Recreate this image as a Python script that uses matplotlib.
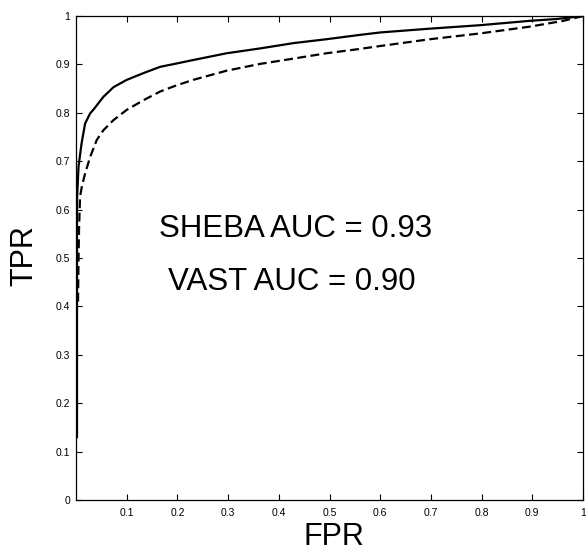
import matplotlib
matplotlib.use("Agg")
import matplotlib.pyplot as plt

plt.rcParams['font.family'] = ['Liberation Sans', 'DejaVu Sans']

# SHEBA ROC curve (solid)
sheba_fpr = [0.002, 0.002, 0.002, 0.005, 0.011, 0.018, 0.028, 0.034, 0.054, 0.074,
             0.100, 0.133, 0.166, 0.199, 0.231, 0.297, 0.363, 0.429, 0.494, 0.560,
             0.600, 0.700, 0.797, 0.895, 0.950, 1.0]
sheba_tpr = [0.13, 0.50, 0.62, 0.689, 0.737, 0.778, 0.799, 0.806, 0.833, 0.853,
             0.868, 0.882, 0.895, 0.902, 0.909, 0.923, 0.933, 0.944, 0.952, 0.961,
             0.966, 0.974, 0.981, 0.990, 0.994, 1.0]

# VAST ROC curve (dashed)
vast_fpr = [0.004, 0.005, 0.006, 0.008, 0.012, 0.018, 0.028, 0.041, 0.054, 0.074,
            0.100, 0.133, 0.166, 0.199, 0.231, 0.297, 0.363, 0.429, 0.494, 0.560,
            0.600, 0.698, 0.797, 0.895, 0.961, 1.0]
vast_tpr = [0.41, 0.50, 0.56, 0.627, 0.65, 0.675, 0.709, 0.744, 0.764, 0.785,
            0.806, 0.826, 0.844, 0.857, 0.868, 0.887, 0.901, 0.912, 0.923, 0.932,
            0.938, 0.952, 0.964, 0.978, 0.990, 1.0]

x_ticks = [0.1, 0.2, 0.3, 0.4, 0.5, 0.6, 0.7, 0.8, 0.9, 1.0]
x_tick_labels = ['0.1', '0.2', '0.3', '0.4', '0.5', '0.6', '0.7', '0.8', '0.9', '1']
y_ticks = [0, 0.1, 0.2, 0.3, 0.4, 0.5, 0.6, 0.7, 0.8, 0.9, 1.0]
y_tick_labels = ['0', '0.1', '0.2', '0.3', '0.4', '0.5', '0.6', '0.7', '0.8', '0.9', '1']

auc_texts = ['SHEBA AUC = 0.93', 'VAST AUC = 0.90']

fig = plt.figure(figsize=(5.86, 5.55), dpi=100)
ax = fig.add_axes([76 / 586, 55 / 555, 507 / 586, 484 / 555])

ax.plot(sheba_fpr, sheba_tpr, color='black', lw=1.6, linestyle='-')
ax.plot(vast_fpr, vast_tpr, color='black', lw=1.6, linestyle=(0, (4, 2)))

ax.set_xlim(0, 1)
ax.set_ylim(0, 1)
ax.set_xticks(x_ticks)
ax.set_xticklabels(x_tick_labels)
ax.set_yticks(y_ticks)
ax.set_yticklabels(y_tick_labels)
ax.tick_params(direction='in', length=4, width=0.8, labelsize=7.5,
               top=True, right=True, colors='black')
ax.tick_params(axis='x', pad=6)
ax.tick_params(axis='y', pad=4)
for s in ax.spines.values():
    s.set_linewidth(0.9)

ax.text(0.164, 0.543, auc_texts[0], fontsize=22.5, ha='left', va='baseline')
ax.text(0.181, 0.434, auc_texts[1], fontsize=22.5, ha='left', va='baseline')

fig.text(0.570, 0.033, 'FPR', fontsize=22, ha='center', va='center')
fig.text(0.041, 0.539, 'TPR', fontsize=22, ha='center', va='center', rotation=90)

fig.savefig('out.png', dpi=100)
